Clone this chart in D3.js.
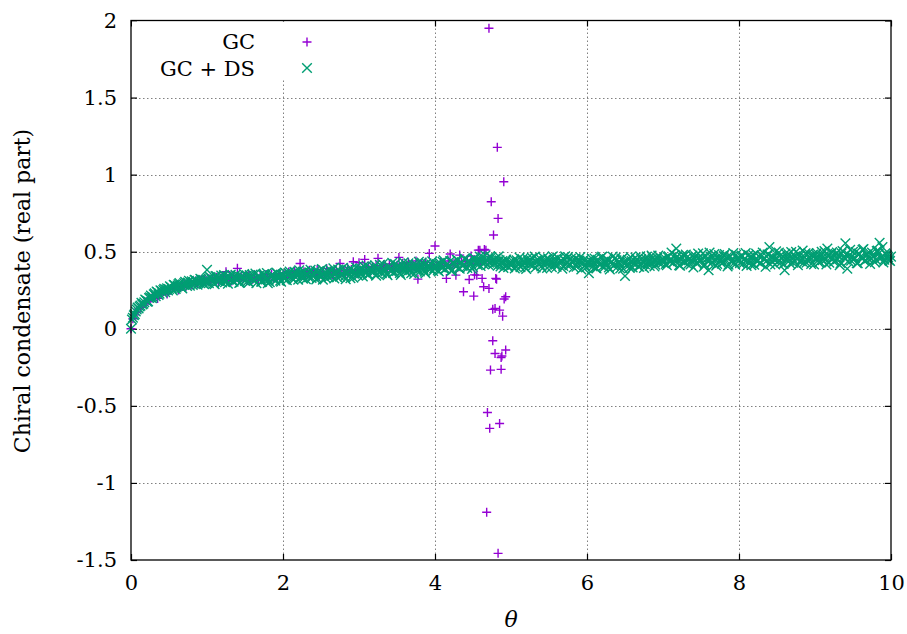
<!DOCTYPE html>
<html><head><meta charset="utf-8">
<script src="https://cdn.jsdelivr.net/npm/d3@7"></script>
<style>html,body{margin:0;padding:0;background:#fff;}svg{display:block;}</style>
</head><body>
<svg id="chart" width="907" height="634"></svg>
<script>
// ---------------- DATA ----------------
const xTicks = [0, 2, 4, 6, 8, 10];
const yTicks = [2, 1.5, 1, 0.5, 0, -0.5, -1, -1.5];
const yTickLabels = ["2", "1.5", "1", "0.5", "0", "-0.5", "-1", "-1.5"];
const seriesNames = ["GC", "GC + DS"];
const thetaStep = 0.025; // sampling grid of theta

// GC + DS : theta = 0, 0.025, ..., 10
const gcdsValues = [
 0.000,0.072,0.095,0.125,0.132,0.150,0.158,0.172,0.185,0.178,
 0.205,0.198,0.224,0.212,0.236,0.228,0.245,0.252,0.238,0.262,
 0.258,0.270,0.249,0.282,0.268,0.290,0.275,0.262,0.296,0.284,
 0.300,0.279,0.308,0.292,0.315,0.286,0.302,0.320,0.295,0.310,
 0.382,0.296,0.332,0.305,0.289,0.340,0.312,0.325,0.300,0.348,
 0.315,0.292,0.335,0.322,0.306,0.350,0.318,0.298,0.338,0.326,
 0.310,0.345,0.300,0.332,0.352,0.314,0.296,0.340,0.328,0.306,
 0.355,0.320,0.295,0.302,0.346,0.324,0.312,0.358,0.330,0.305,
 0.352,0.330,0.315,0.362,0.340,0.325,0.370,0.348,0.318,0.358,
 0.336,0.372,0.322,0.350,0.365,0.330,0.345,0.378,0.328,0.356,
 0.340,0.318,0.368,0.352,0.335,0.380,0.344,0.326,0.362,0.385,
 0.338,0.356,0.372,0.322,0.364,0.348,0.390,0.332,0.370,0.355,
 0.365,0.392,0.340,0.378,0.410,0.352,0.385,0.368,0.398,0.345,
 0.380,0.415,0.360,0.392,0.372,0.348,0.402,0.385,0.362,0.420,
 0.375,0.395,0.350,0.410,0.388,0.365,0.425,0.380,0.398,0.355,
 0.415,0.390,0.372,0.430,0.384,0.360,0.405,0.395,0.418,0.375,
 0.395,0.420,0.372,0.410,0.435,0.385,0.415,0.400,0.440,0.378,
 0.425,0.405,0.445,0.390,0.430,0.412,0.450,0.395,0.438,0.418,
 0.402,0.455,0.425,0.442,0.408,0.465,0.432,0.448,0.415,0.470,
 0.440,0.425,0.458,0.410,0.445,0.428,0.395,0.438,0.412,0.425,
 0.410,0.435,0.392,0.445,0.418,0.400,0.452,0.425,0.388,0.440,
 0.415,0.460,0.428,0.398,0.448,0.420,0.405,0.462,0.432,0.395,
 0.445,0.418,0.470,0.425,0.402,0.455,0.438,0.390,0.448,0.420,
 0.465,0.412,0.435,0.398,0.458,0.425,0.442,0.385,0.430,0.410,
 0.425,0.360,0.440,0.405,0.455,0.392,0.430,0.415,0.468,0.398,
 0.420,0.445,0.385,0.435,0.410,0.460,0.402,0.428,0.450,0.390,
 0.342,0.438,0.412,0.465,0.398,0.425,0.448,0.405,0.470,0.420,
 0.395,0.452,0.432,0.408,0.475,0.440,0.415,0.460,0.425,0.445,
 0.430,0.458,0.412,0.470,0.442,0.425,0.478,0.520,0.448,0.410,
 0.465,0.435,0.482,0.418,0.455,0.440,0.398,0.472,0.428,0.462,
 0.445,0.490,0.415,0.452,0.380,0.468,0.432,0.485,0.410,0.458,
 0.440,0.422,0.475,0.448,0.405,0.465,0.435,0.492,0.418,0.455,
 0.440,0.468,0.420,0.455,0.408,0.478,0.432,0.462,0.415,0.488,
 0.445,0.425,0.472,0.450,0.402,0.482,0.530,0.438,0.465,0.418,
 0.455,0.495,0.430,0.470,0.380,0.448,0.485,0.422,0.462,0.440,
 0.500,0.412,0.475,0.452,0.428,0.490,0.445,0.468,0.420,0.482,
 0.455,0.492,0.430,0.470,0.445,0.505,0.418,0.478,0.460,0.498,
 0.435,0.485,0.452,0.412,0.490,0.465,0.555,0.390,0.475,0.442,
 0.500,0.458,0.425,0.488,0.468,0.512,0.440,0.482,0.455,0.420,
 0.495,0.470,0.448,0.508,0.558,0.462,0.430,0.490,0.475,0.445,
 0.468
];

// GC + DS : second sweep, theta = 0.0125, 0.0375, ..., 9.9875
const gcdsValues2 = [
 0.060,0.088,0.112,0.138,0.145,0.168,0.162,0.190,0.176,0.200,
 0.215,0.206,0.230,0.242,0.220,0.250,0.235,0.260,0.255,0.248,
 0.275,0.262,0.285,0.258,0.280,0.296,0.270,0.288,0.305,0.278,
 0.312,0.298,0.285,0.318,0.305,0.296,0.325,0.308,0.290,0.320,
 0.305,0.335,0.318,0.296,0.342,0.325,0.310,0.345,0.318,0.302,
 0.340,0.328,0.352,0.308,0.335,0.320,0.346,0.300,0.338,0.355,
 0.322,0.310,0.348,0.335,0.318,0.358,0.328,0.342,0.305,0.350,
 0.330,0.362,0.318,0.340,0.352,0.325,0.365,0.338,0.312,0.348,
 0.326,0.360,0.345,0.372,0.332,0.318,0.365,0.350,0.380,0.340,
 0.325,0.368,0.355,0.335,0.382,0.348,0.360,0.320,0.372,0.345,
 0.388,0.352,0.330,0.375,0.362,0.342,0.392,0.358,0.335,0.378,
 0.350,0.395,0.340,0.368,0.382,0.328,0.375,0.358,0.398,0.345,
 0.385,0.360,0.405,0.372,0.350,0.395,0.380,0.365,0.412,0.358,
 0.390,0.372,0.420,0.385,0.355,0.402,0.378,0.428,0.368,0.395,
 0.410,0.362,0.392,0.432,0.375,0.405,0.385,0.360,0.418,0.398,
 0.378,0.435,0.392,0.408,0.370,0.425,0.402,0.385,0.438,0.392,
 0.412,0.380,0.428,0.398,0.445,0.388,0.420,0.405,0.375,0.432,
 0.415,0.448,0.395,0.425,0.408,0.455,0.402,0.440,0.422,0.388,
 0.458,0.432,0.412,0.468,0.438,0.420,0.475,0.445,0.428,0.462,
 0.418,0.448,0.435,0.470,0.405,0.440,0.415,0.450,0.400,0.432,
 0.425,0.448,0.405,0.432,0.462,0.415,0.440,0.398,0.455,0.428,
 0.445,0.410,0.468,0.435,0.420,0.452,0.392,0.440,0.425,0.458,
 0.432,0.400,0.448,0.415,0.462,0.428,0.442,0.408,0.470,0.435,
 0.418,0.455,0.430,0.448,0.402,0.440,0.465,0.420,0.450,0.398,
 0.438,0.412,0.455,0.428,0.395,0.448,0.420,0.462,0.408,0.435,
 0.452,0.398,0.430,0.468,0.415,0.445,0.425,0.392,0.455,0.432,
 0.410,0.448,0.395,0.440,0.420,0.462,0.430,0.402,0.452,0.438,
 0.418,0.468,0.445,0.425,0.458,0.405,0.440,0.475,0.432,0.452,
 0.448,0.420,0.465,0.438,0.495,0.428,0.455,0.470,0.412,0.448,
 0.480,0.430,0.462,0.445,0.418,0.475,0.455,0.425,0.488,0.440,
 0.458,0.405,0.472,0.438,0.495,0.428,0.465,0.448,0.420,0.478,
 0.452,0.430,0.485,0.462,0.415,0.470,0.445,0.428,0.480,0.458,
 0.425,0.475,0.448,0.492,0.432,0.462,0.412,0.478,0.450,0.438,
 0.470,0.425,0.495,0.458,0.440,0.482,0.418,0.465,0.448,0.502,
 0.435,0.472,0.455,0.420,0.488,0.462,0.442,0.498,0.428,0.470,
 0.452,0.485,0.438,0.508,0.465,0.428,0.490,0.448,0.475,0.418,
 0.482,0.458,0.435,0.500,0.470,0.448,0.520,0.428,0.488,0.462,
 0.440,0.495,0.472,0.425,0.505,0.458,0.482,0.438,0.512,0.468,
 0.450,0.498,0.425,0.485,0.462,0.518,0.442,0.478,0.495,0.455,
 0.470,0.432,0.505,0.488,0.458,0.530,0.448,0.482,0.465,0.440
];

// GC : theta = 0, 0.025, ..., 4.475
const gcValues = [
 0.000,0.065,0.090,0.110,0.128,0.140,0.152,0.165,0.175,0.182,
 0.190,0.200,0.208,0.215,0.197,0.228,0.236,0.240,0.245,0.225,
 0.255,0.262,0.268,0.272,0.275,0.251,0.280,0.288,0.292,0.276,
 0.298,0.300,0.285,0.305,0.310,0.292,0.315,0.318,0.300,0.322,
 0.312,0.325,0.305,0.330,0.318,0.335,0.300,0.328,0.340,0.315,
 0.370,0.322,0.336,0.310,0.345,0.328,0.392,0.318,0.338,0.325,
 0.342,0.312,0.348,0.330,0.322,0.350,0.335,0.318,0.345,0.338,
 0.328,0.352,0.340,0.315,0.355,0.332,0.345,0.325,0.358,0.340,
 0.345,0.360,0.332,0.368,0.350,0.340,0.375,0.355,0.362,0.424,
 0.348,0.370,0.338,0.358,0.380,0.345,0.365,0.352,0.385,0.340,
 0.372,0.358,0.348,0.390,0.362,0.375,0.350,0.368,0.382,0.355,
 0.424,0.365,0.378,0.352,0.395,0.370,0.385,0.435,0.360,0.380,
 0.428,0.375,0.395,0.450,0.382,0.405,0.370,0.398,0.388,0.410,
 0.457,0.392,0.378,0.415,0.400,0.385,0.420,0.395,0.408,0.380,
 0.412,0.463,0.390,0.425,0.405,0.398,0.430,0.385,0.415,0.402,
 0.440,0.322,0.395,0.420,0.410,0.432,0.398,0.489,0.415,0.405,
 0.537,0.410,0.395,0.430,0.420,0.405,0.327,0.440,0.485,0.415,
 0.425,0.348,0.400,0.478,0.435,0.240,0.410,0.445,0.320,0.472
];

// GC : scattered points near the breakdown (theta ~ 4.5 - 4.95)
const gcScatterTheta = [4.50,4.51,4.52,4.55,4.57,4.59,4.60,4.62,4.64,4.65,4.67,4.68,4.69,4.70,4.71,4.71,4.72,4.73,4.74,4.76,4.76,4.77,4.79,4.79,4.80,4.81,4.82,4.83,4.83,4.85,4.85,4.87,4.87,4.88,4.89,4.905,4.91,4.93,4.93];
const gcScatterValue = [0.420,0.212,0.350,0.348,0.510,0.510,0.440,0.327,0.273,0.515,0.510,-1.190,-0.543,0.450,1.950,0.262,-0.646,-0.268,0.824,0.126,-0.078,0.608,0.132,-0.160,0.327,0.322,1.177,0.716,-1.457,0.121,-0.614,-0.186,-0.263,-0.177,0.082,0.954,0.193,0.208,-0.138];

// ---------------- CHART ----------------
const svg = d3.select("#chart");
const FONT = "DejaVu Serif";
const m = {left: 131, right: 891, top: 20.5, bottom: 560};
const x = d3.scaleLinear().domain([0, 10]).range([m.left, m.right]);
const y = d3.scaleLinear().domain([-1.5, 2]).range([m.bottom, m.top]);
const cGC = "#9400d3", cDS = "#009e73";

// grid
const grid = svg.append("g").attr("stroke", "#808080").attr("stroke-width", 1).attr("stroke-dasharray", "1.5,2.5");
grid.selectAll("line.h").data(yTicks.filter(v => v > -1.5 && v < 2)).join("line")
  .attr("class", "h")
  .attr("x1", m.left).attr("x2", m.right).attr("y1", d => Math.round(y(d)) + 0.5).attr("y2", d => Math.round(y(d)) + 0.5);
grid.selectAll("line.v").data(xTicks.filter(v => v > 0 && v < 10)).join("line")
  .attr("class", "v")
  .attr("y1", m.top).attr("y2", m.bottom).attr("x1", d => Math.round(x(d)) + 0.5).attr("x2", d => Math.round(x(d)) + 0.5);

// axes (inward ticks on all four sides)
const tl = 6;
const axB = svg.append("g").attr("transform", `translate(0,${m.bottom})`)
  .call(d3.axisBottom(x).tickValues(xTicks).tickSize(-tl).tickPadding(15).tickFormat(d3.format("d")));
const axT = svg.append("g").attr("transform", `translate(0,${m.top})`)
  .call(d3.axisTop(x).tickValues(xTicks).tickSize(-tl).tickFormat(""));
const axL = svg.append("g").attr("transform", `translate(${m.left},0)`)
  .call(d3.axisLeft(y).tickValues(yTicks).tickSize(-tl).tickPadding(14).tickFormat((d, i) => yTickLabels[i]));
const axR = svg.append("g").attr("transform", `translate(${m.right},0)`)
  .call(d3.axisRight(y).tickValues(yTicks).tickSize(-tl).tickFormat(""));
[axB, axT, axL, axR].forEach(a => {
  a.attr("font-family", FONT);
  a.select(".domain").remove();
  a.selectAll(".tick line").attr("stroke", "#000").attr("stroke-width", 1.2);
  a.selectAll("text").attr("font-family", FONT).attr("font-size", 21).attr("fill", "#000");
});
axB.selectAll("text").attr("dy", "0.71em");

// legend box (opaque)
svg.append("rect").attr("x", m.left + 1).attr("y", m.top + 1).attr("width", 192).attr("height", 58).attr("fill", "#fff");

// points
const gcData = gcValues.map((v, i) => [i * thetaStep, v])
  .concat(gcScatterTheta.map((t, i) => [t, gcScatterValue[i]]));
const dsData = gcdsValues.map((v, i) => [i * thetaStep, v])
  .concat(gcdsValues2.map((v, i) => [(i + 0.5) * thetaStep, v]));

const plus = (s) => `M${-s},0H${s}M0,${-s}V${s}`;
const cross = (s) => `M${-s},${-s}L${s},${s}M${-s},${s}L${s},${-s}`;

const pts = svg.append("g");
pts.append("g").selectAll("path").data(gcData).join("path")
  .attr("transform", d => `translate(${x(d[0])},${y(d[1])})`)
  .attr("d", plus(4.5)).attr("stroke", cGC).attr("stroke-width", 1.4).attr("fill", "none");
pts.append("g").selectAll("path").data(dsData).join("path")
  .attr("transform", d => `translate(${x(d[0])},${y(d[1])})`)
  .attr("d", cross(4.8)).attr("stroke", cDS).attr("stroke-width", 1.4).attr("fill", "none");

// frame
svg.append("rect").attr("x", m.left).attr("y", m.top).attr("width", m.right - m.left).attr("height", m.bottom - m.top)
  .attr("fill", "none").attr("stroke", "#000").attr("stroke-width", 1.3);

// legend
const leg = svg.append("g").attr("font-family", FONT).attr("font-size", 21);
leg.append("text").attr("x", 255).attr("y", 49).attr("text-anchor", "end").text(seriesNames[0]);
leg.append("text").attr("x", 255).attr("y", 76).attr("text-anchor", "end").text(seriesNames[1]);
leg.append("path").attr("transform", "translate(307,42)").attr("d", plus(4.5)).attr("stroke", cGC).attr("stroke-width", 1.4);
leg.append("path").attr("transform", "translate(307,68)").attr("d", cross(4.8)).attr("stroke", cDS).attr("stroke-width", 1.4);

// axis titles
svg.append("text").attr("transform", "translate(30,291) rotate(-90)").attr("text-anchor", "middle")
  .attr("font-family", FONT).attr("font-size", 22).text("Chiral condensate (real part)");
svg.append("text").attr("x", 511).attr("y", 627).attr("text-anchor", "middle")
  .attr("font-family", FONT).attr("font-size", 22).attr("font-style", "italic").text("θ");
</script>
</body></html>
